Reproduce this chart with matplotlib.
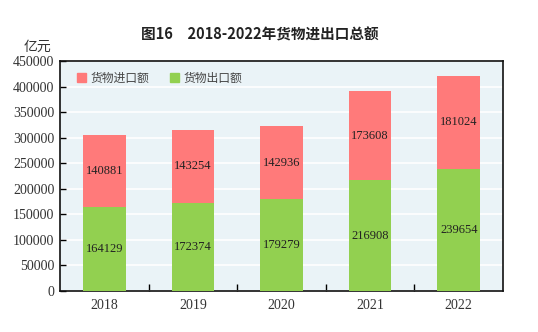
import matplotlib
matplotlib.use("Agg")
import matplotlib.pyplot as plt
from matplotlib.patches import Patch

plt.rcParams['font.family'] = ['Noto Sans CJK SC', 'DejaVu Sans']

years = ["2018", "2019", "2020", "2021", "2022"]
exports = [164129, 172374, 179279, 216908, 239654]
imports = [140881, 143254, 142936, 173608, 181024]
yticks = [0, 50000, 100000, 150000, 200000, 250000, 300000, 350000, 400000, 450000]

c_imp = "#FF7A7A"
c_exp = "#92D050"
bg = "#EAF3F7"

fig = plt.figure(figsize=(5.38, 3.32), dpi=100)
ax = fig.add_axes([60/538, 1-291/332, 443/538, 230/332])
ax.set_facecolor(bg)

x = list(range(len(years)))
w = 0.48
ax.bar(x, exports, width=w, color=c_exp, zorder=3)
ax.bar(x, imports, width=w, bottom=exports, color=c_imp, zorder=3)

serif = "Liberation Serif"
for i in x:
    ax.text(i, exports[i] / 2, f"{exports[i]}", ha="center", va="center",
            fontsize=9, family=serif, color="#222222", zorder=4)
    ax.text(i, exports[i] + imports[i] / 2, f"{imports[i]}", ha="center", va="center",
            fontsize=9, family=serif, color="#222222", zorder=4)

ax.set_xlim(-0.5, len(years) - 0.5)
ax.set_ylim(0, 450000)
ax.set_yticks(yticks)
ax.set_yticklabels([str(v) for v in yticks], family=serif, fontsize=10, color="#333333")
ax.yaxis.grid(True, color="white", linewidth=1.2, zorder=1)
ax.set_axisbelow(True)
ax.tick_params(axis="y", direction="in", length=4, width=1, pad=4)

ax.set_xticks(x)
ax.set_xticklabels(years, family=serif, fontsize=10, color="#333333")
ax.tick_params(axis="x", length=0, pad=6)
ax.set_xticks([i + 0.5 for i in x[:-1]], minor=True)
ax.tick_params(axis="x", which="minor", direction="in", length=5, width=1)

for s in ax.spines.values():
    s.set_linewidth(1.2)
    s.set_color("#111111")

fig.text(260/538, 1-35/332, "图16　2018-2022年货物进出口总额", ha="center", va="center",
         fontsize=10.5, fontweight="semibold", color="#222222")
fig.text(37/538, 1-47/332, "亿元", ha="center", va="center", fontsize=10, color="#333333")

handles = [Patch(color=c_imp, label="货物进口额"), Patch(color=c_exp, label="货物出口额")]
leg = ax.legend(handles=handles, loc="upper left", ncol=2, frameon=False,
                bbox_to_anchor=(0.015, 1.0), fontsize=8.5, handlelength=0.7, handleheight=0.7,
                handletextpad=0.4, columnspacing=1.8,
                labelcolor="#444444")

fig.savefig("out.png", dpi=100)
